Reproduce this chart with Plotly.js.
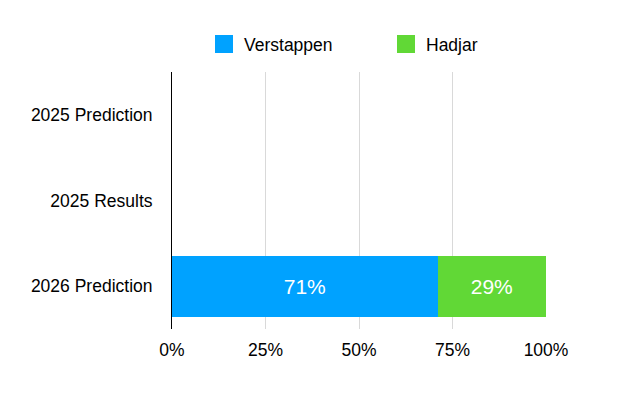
<!DOCTYPE html>
<html>
<head>
<meta charset="utf-8">
<script src="https://cdn.plot.ly/plotly-3.0.1.min.js"></script>
<style>
  html, body { margin: 0; padding: 0; background: #fff; }
  #grafico { width: 625px; height: 402px; }
</style>
</head>
<body>
<div id="grafico"></div>
<script>
// categorias (de arriba a abajo) y valores en %
var categorias = ["2025 Prediction", "2025 Results", "2026 Prediction"];
var valoresVerstappen = [null, null, 71];
var valoresHadjar = [null, null, 29];
var ticksX = [0, 25, 50, 75, 100];

var azul = "#00A2FF";
var verde = "#61D836";
var fuente = "Liberation Sans, Arial, Helvetica, sans-serif";

function etiquetas(valores) {
  return valores.map(function (v) { return v === null ? "" : v + "%"; });
}

var dataBarras = [
  {
    name: "Verstappen",
    type: "bar",
    orientation: "h",
    y: categorias,
    x: valoresVerstappen,
    text: etiquetas(valoresVerstappen),
    textposition: "inside",
    insidetextanchor: "middle",
    textfont: { color: "#ffffff", size: 21, family: fuente },
    marker: { color: azul },
    showlegend: false,
    hoverinfo: "skip"
  },
  {
    name: "Hadjar",
    type: "bar",
    orientation: "h",
    y: categorias,
    x: valoresHadjar,
    text: etiquetas(valoresHadjar),
    textposition: "inside",
    insidetextanchor: "middle",
    textfont: { color: "#ffffff", size: 21, family: fuente },
    marker: { color: verde },
    showlegend: false,
    hoverinfo: "skip"
  },
  // solo para la leyenda (cuadrados mas grandes)
  {
    name: "Verstappen",
    type: "scatter",
    mode: "markers",
    x: [null],
    y: [null],
    marker: { symbol: "square", size: 16, color: azul, line: { color: azul, width: 2 } }
  },
  {
    name: "Hadjar",
    type: "scatter",
    mode: "markers",
    x: [null],
    y: [null],
    marker: { symbol: "square", size: 16, color: verde, line: { color: verde, width: 2 } }
  }
];

var layout = {
  width: 625,
  height: 402,
  margin: { l: 172, r: 79, t: 72, b: 73 },
  paper_bgcolor: "#ffffff",
  plot_bgcolor: "#ffffff",
  font: { family: fuente, size: 17.5, color: "#000000" },
  barmode: "stack",
  bargap: 0.29,
  showlegend: true,
  legend: {
    orientation: "h",
    xref: "container",
    yref: "container",
    x: 204 / 625,
    xanchor: "left",
    y: 1 - 44 / 402,
    yanchor: "middle",
    entrywidth: 137,
    font: { family: fuente, size: 17.5, color: "#000000" },
    traceorder: "normal"
  },
  xaxis: {
    range: [0, 100],
    tickvals: ticksX,
    ticktext: ticksX.map(function (t) { return t + "%"; }),
    showgrid: true,
    gridcolor: "#d9d9d9",
    gridwidth: 1,
    zeroline: false,
    showline: false,
    ticks: "",
    ticklabelstandoff: 8,
    fixedrange: true
  },
  yaxis: {
    type: "category",
    categoryorder: "array",
    categoryarray: categorias,
    autorange: "reversed",
    showgrid: false,
    zeroline: false,
    showline: true,
    linecolor: "#000000",
    linewidth: 1,
    ticks: "",
    ticklabelstandoff: 15,
    fixedrange: true
  }
};

Plotly.newPlot("grafico", dataBarras, layout, { displayModeBar: false, staticPlot: true });
</script>
</body>
</html>
